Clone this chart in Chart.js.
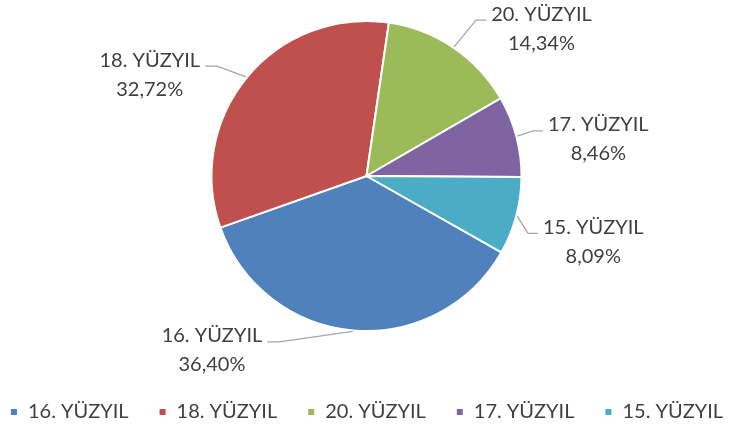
<!DOCTYPE html>
<html>
<head>
<meta charset="utf-8">
<script src="https://cdn.jsdelivr.net/npm/chart.js@4/dist/chart.umd.min.js"></script>
<style>
html,body{margin:0;padding:0;background:#fff;}
#wrap{width:733px;height:428px;position:relative;}
</style>
</head>
<body>
<div id="wrap"><canvas id="c" width="733" height="428"></canvas></div>
<script>
const categories = ['16. YÜZYIL', '18. YÜZYIL', '20. YÜZYIL', '17. YÜZYIL', '15. YÜZYIL'];
const values = [36.40, 32.72, 14.34, 8.46, 8.09];
const percentLabels = ['36,40%', '32,72%', '14,34%', '8,46%', '8,09%'];
const colors = ['#4F81BD', '#C0504D', '#9BBB59', '#8064A2', '#4BACC6'];
// label block offset from slice edge midpoint (annotation placement)
const labelOffsets = [[-141, 20], [-97, -3], [88, -19], [82, 3], [77, 26]];

const FONT = 'Lato, "Open Sans", sans-serif';
const TEXT = '#404040';

const outsideLabels = {
  id: 'outsideLabels',
  afterDatasetsDraw(chart) {
    const ctx = chart.ctx;
    const meta = chart.getDatasetMeta(0);
    ctx.save();
    ctx.font = '20px ' + FONT;
    ctx.textBaseline = 'middle';
    ctx.textAlign = 'center';
    meta.data.forEach((arc, i) => {
      const p = arc.getProps(['x', 'y', 'startAngle', 'endAngle', 'outerRadius'], true);
      const m = (p.startAngle + p.endAngle) / 2;
      const ex = p.x + (p.outerRadius + 1) * Math.cos(m);
      const ey = p.y + (p.outerRadius + 1) * Math.sin(m);
      const cx = p.x + p.outerRadius * Math.cos(m) + labelOffsets[i][0];
      const cy = p.y + p.outerRadius * Math.sin(m) + labelOffsets[i][1];
      const l1 = cy - 14.5, l2 = cy + 14.5;
      const w1 = ctx.measureText(categories[i]).width;
      const hy = l1 + 6;
      ctx.strokeStyle = '#A6A6A6';
      ctx.lineWidth = 1.3;
      ctx.beginPath();
      if (labelOffsets[i][0] > 0) {
        const left = cx - w1 / 2;
        ctx.moveTo(ex, ey);
        ctx.lineTo(left - 15, hy);
        ctx.lineTo(left - 5, hy);
      } else {
        const right = cx + w1 / 2;
        ctx.moveTo(ex, ey);
        ctx.lineTo(right + 17, hy);
        ctx.lineTo(right + 5, hy);
      }
      ctx.stroke();
      ctx.fillStyle = TEXT;
      ctx.fillText(categories[i], cx, l1);
      ctx.fillText(percentLabels[i], cx, l2);
    });
    ctx.restore();
  }
};

new Chart(document.getElementById('c'), {
  type: 'pie',
  data: {
    labels: categories,
    datasets: [{
      data: values,
      backgroundColor: colors,
      borderColor: '#ffffff',
      borderWidth: 2,
      radius: 155
    }]
  },
  options: {
    responsive: false,
    animation: false,
    rotation: 119.5,
    layout: { padding: { top: 0, bottom: -4, left: -30, right: -30 } },
    plugins: {
      tooltip: { enabled: false },
      legend: {
        position: 'bottom',
        title: {
          display: true,
          text: '',
          padding: 0,
          font: { family: FONT, size: 20, lineHeight: 1 }
        },
        labels: {
          boxWidth: 8,
          boxHeight: 8,
          padding: 30,
          color: TEXT,
          font: { family: FONT, size: 20 }
        }
      }
    }
  },
  plugins: [outsideLabels]
});
</script>
</body>
</html>
